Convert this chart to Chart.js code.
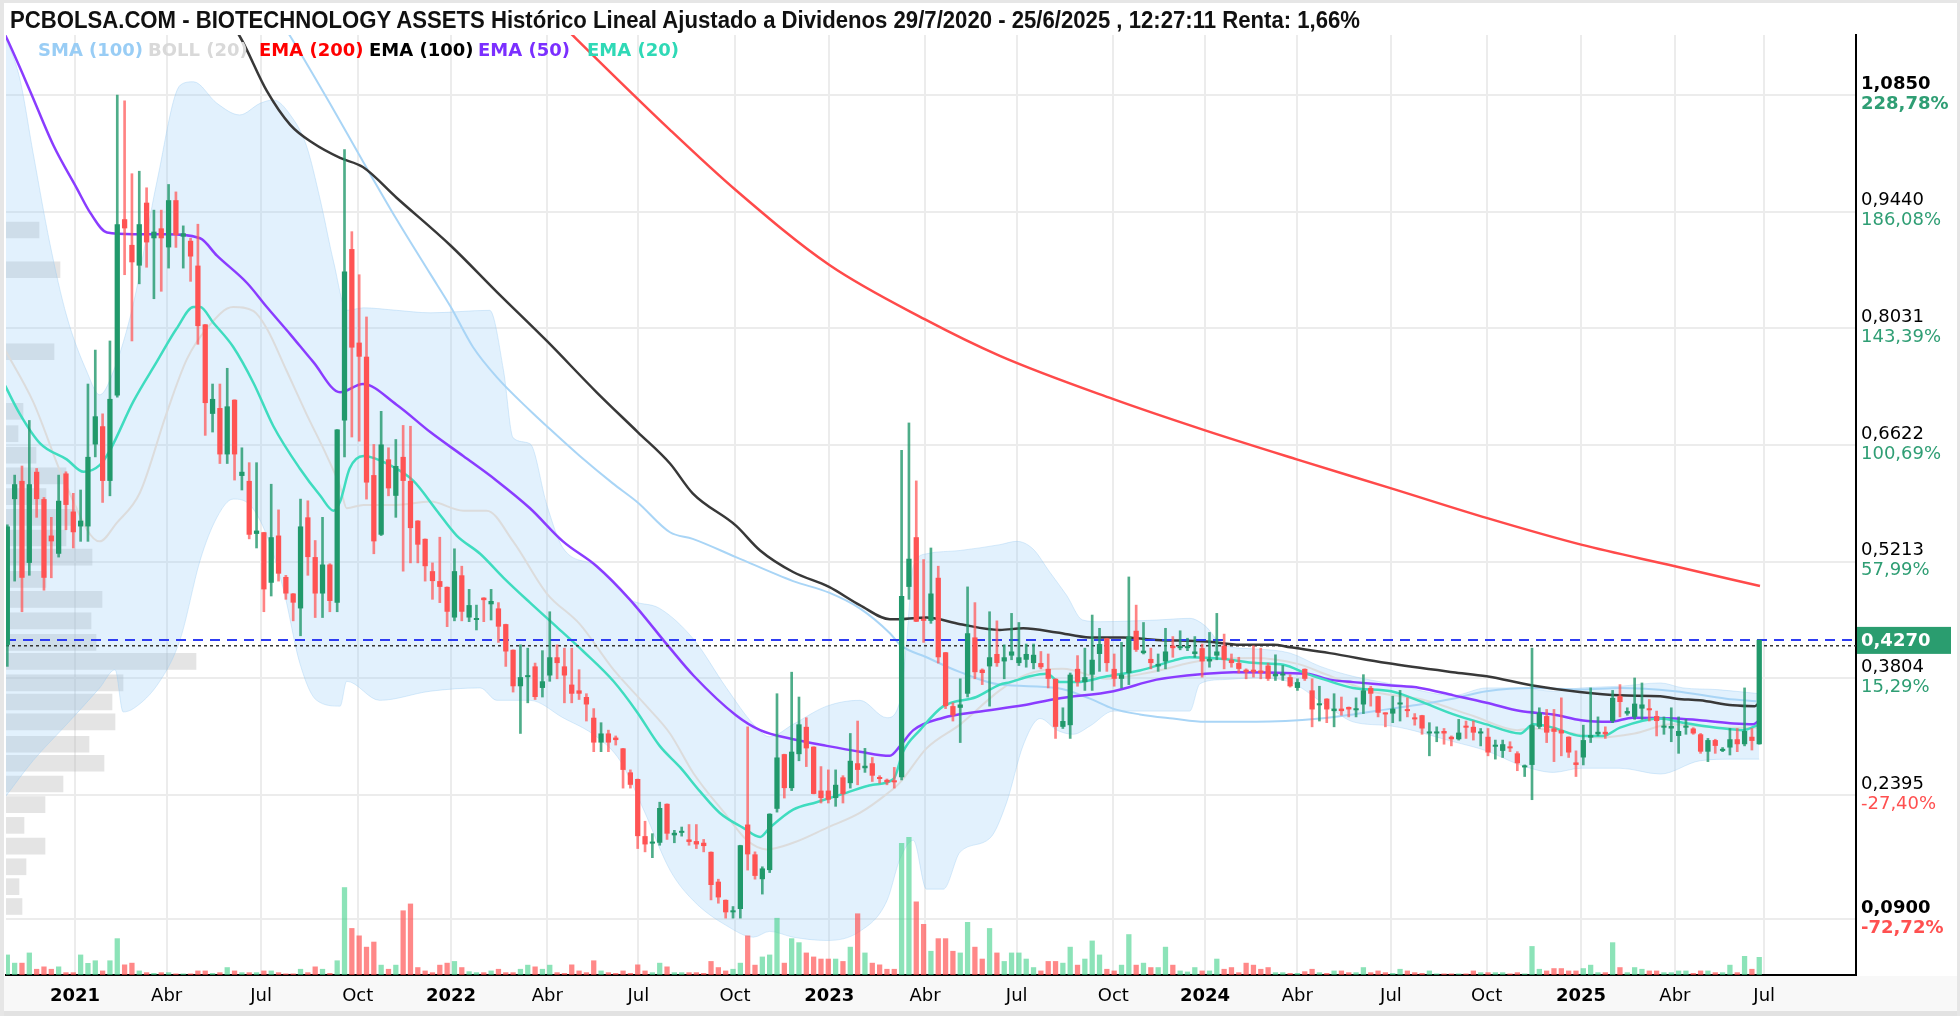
<!DOCTYPE html>
<html>
<head>
<meta charset="utf-8">
<script src="https://cdn.jsdelivr.net/npm/chart.js@4.4.1/dist/chart.umd.min.js"></script>
<style>
html,body{margin:0;padding:0;background:#fff;}
#wrap{position:relative;width:1960px;height:1016px;overflow:hidden;}
#c{position:absolute;left:0;top:0;}
#title{position:absolute;left:10px;top:7px;font-family:"Liberation Sans Narrow","Liberation Sans",Arial,sans-serif;font-weight:bold;font-size:23px;line-height:26px;color:#111;white-space:nowrap;transform-origin:0 0;}
.lg{position:absolute;top:40px;font-family:"DejaVu Sans",sans-serif;font-weight:bold;font-size:18px;line-height:20px;white-space:nowrap;}
</style>
</head>
<body>
<div id="wrap">
<canvas id="c" width="1960" height="1016"></canvas>
<div id="title">PCBOLSA.COM - BIOTECHNOLOGY ASSETS Histórico Lineal Ajustado a Dividenos 29/7/2020 - 25/6/2025 , 12:27:11 Renta: 1,66%</div>
<div id="legend"></div>
</div>
<script>
// ---------- DATA ----------
const candleOpen = [
0.421,0.597,0.619,0.520,0.630,0.597,0.553,0.531,0.628,0.582,
0.564,0.564,0.663,0.685,0.619,0.722,0.935,0.904,0.879,0.955,
0.912,0.924,0.901,0.958,0.914,0.909,0.879,0.808,0.700,0.707,
0.651,0.717,0.625,0.619,0.555,0.557,0.496,0.553,0.503,0.483,
0.465,0.575,0.527,0.483,0.518,0.472,0.692,0.899,0.786,0.769,
0.626,0.554,0.645,0.601,0.648,0.619,0.571,0.549,0.510,0.498,
0.491,0.454,0.505,0.454,0.451,0.478,0.470,0.465,0.446,0.415,
0.371,0.382,0.395,0.369,0.384,0.406,0.395,0.373,0.366,0.358,
0.333,0.303,0.314,0.309,0.296,0.267,0.259,0.190,0.181,0.182,
0.229,0.191,0.194,0.186,0.184,0.182,0.171,0.135,0.113,0.098,
0.102,0.204,0.168,0.138,0.149,0.223,0.289,0.248,0.289,0.322,
0.298,0.245,0.245,0.236,0.261,0.254,0.278,0.272,0.278,0.261,
0.258,0.257,0.261,0.491,0.551,0.452,0.450,0.502,0.412,0.347,
0.345,0.362,0.430,0.391,0.395,0.410,0.401,0.408,0.399,0.403,
0.399,0.399,0.392,0.380,0.322,0.324,0.392,0.376,0.385,0.410,
0.429,0.392,0.380,0.387,0.438,0.411,0.404,0.395,0.401,0.420,
0.417,0.417,0.410,0.417,0.401,0.408,0.420,0.403,0.399,0.391,
0.391,0.390,0.396,0.383,0.384,0.382,0.369,0.392,0.366,0.348,
0.356,0.341,0.344,0.346,0.342,0.349,0.369,0.359,0.339,0.338,
0.349,0.343,0.333,0.336,0.314,0.314,0.317,0.310,0.307,0.323,
0.322,0.314,0.310,0.298,0.293,0.298,0.290,0.273,0.276,0.322,
0.335,0.320,0.318,0.310,0.279,0.285,0.309,0.313,0.316,0.329,
0.359,0.338,0.334,0.344,0.344,0.335,0.321,0.320,0.311,0.321,
0.320,0.313,0.292,0.306,0.293,0.297,0.307,0.301,0.310,0.301];
const candleHigh = [
0.566,0.626,0.637,0.692,0.634,0.599,0.575,0.626,0.630,0.604,
0.608,0.736,0.777,0.700,0.788,1.085,1.078,0.990,0.993,0.973,
0.946,0.946,0.977,0.968,0.927,0.912,0.929,0.808,0.736,0.736,
0.755,0.717,0.659,0.641,0.641,0.557,0.615,0.584,0.505,0.483,
0.597,0.595,0.547,0.575,0.519,0.681,1.019,0.920,0.868,0.817,
0.663,0.703,0.659,0.669,0.686,0.685,0.571,0.549,0.520,0.551,
0.491,0.537,0.516,0.488,0.469,0.478,0.488,0.472,0.446,0.415,
0.421,0.417,0.399,0.414,0.461,0.421,0.417,0.417,0.391,0.362,
0.344,0.327,0.318,0.311,0.296,0.270,0.259,0.208,0.193,0.231,
0.229,0.197,0.201,0.204,0.204,0.186,0.171,0.138,0.113,0.105,
0.179,0.322,0.171,0.153,0.217,0.362,0.289,0.388,0.358,0.333,
0.298,0.274,0.270,0.270,0.263,0.314,0.329,0.296,0.285,0.263,
0.259,0.273,0.656,0.689,0.619,0.524,0.538,0.516,0.412,0.351,
0.380,0.491,0.472,0.392,0.461,0.450,0.421,0.459,0.448,0.422,
0.422,0.413,0.410,0.380,0.345,0.387,0.408,0.417,0.457,0.441,
0.429,0.410,0.424,0.503,0.469,0.448,0.417,0.410,0.441,0.431,
0.438,0.429,0.431,0.422,0.436,0.459,0.434,0.410,0.406,0.392,
0.420,0.417,0.399,0.409,0.396,0.385,0.380,0.392,0.380,0.371,
0.356,0.362,0.358,0.346,0.357,0.385,0.371,0.359,0.339,0.359,
0.366,0.357,0.338,0.336,0.327,0.322,0.320,0.311,0.331,0.329,
0.329,0.320,0.320,0.306,0.306,0.304,0.292,0.276,0.417,0.345,
0.343,0.343,0.357,0.310,0.293,0.324,0.369,0.334,0.322,0.366,
0.373,0.345,0.381,0.375,0.355,0.341,0.334,0.345,0.334,0.331,
0.321,0.314,0.308,0.307,0.297,0.320,0.320,0.369,0.320,0.427];
const candleLow = [
0.395,0.498,0.461,0.505,0.575,0.487,0.502,0.527,0.560,0.538,
0.546,0.546,0.648,0.593,0.601,0.720,0.868,0.788,0.857,0.877,
0.839,0.848,0.876,0.901,0.876,0.860,0.784,0.674,0.678,0.640,
0.640,0.620,0.608,0.549,0.538,0.461,0.480,0.498,0.476,0.450,
0.432,0.505,0.454,0.454,0.461,0.461,0.648,0.672,0.667,0.597,
0.531,0.553,0.601,0.575,0.510,0.520,0.520,0.498,0.476,0.472,
0.443,0.450,0.450,0.449,0.439,0.449,0.451,0.424,0.395,0.364,
0.314,0.351,0.355,0.358,0.377,0.380,0.351,0.351,0.355,0.329,
0.292,0.292,0.292,0.300,0.248,0.248,0.175,0.171,0.164,0.179,
0.186,0.182,0.190,0.179,0.175,0.171,0.113,0.109,0.091,0.091,
0.091,0.149,0.138,0.120,0.146,0.219,0.236,0.245,0.281,0.274,
0.241,0.230,0.230,0.226,0.230,0.248,0.252,0.267,0.256,0.254,
0.252,0.248,0.258,0.476,0.449,0.424,0.447,0.399,0.344,0.329,
0.303,0.358,0.380,0.373,0.347,0.395,0.380,0.403,0.396,0.394,
0.392,0.392,0.369,0.308,0.320,0.308,0.371,0.366,0.366,0.389,
0.389,0.371,0.369,0.373,0.413,0.410,0.392,0.389,0.392,0.406,
0.415,0.414,0.406,0.382,0.394,0.403,0.392,0.394,0.387,0.380,
0.382,0.380,0.378,0.378,0.378,0.370,0.366,0.378,0.322,0.329,
0.327,0.322,0.336,0.334,0.334,0.338,0.347,0.334,0.322,0.327,
0.329,0.334,0.324,0.313,0.287,0.304,0.301,0.299,0.306,0.308,
0.306,0.299,0.287,0.283,0.285,0.292,0.269,0.262,0.234,0.320,
0.303,0.280,0.287,0.285,0.262,0.276,0.303,0.311,0.308,0.327,
0.334,0.336,0.331,0.331,0.329,0.311,0.313,0.304,0.290,0.313,
0.313,0.290,0.280,0.290,0.292,0.288,0.292,0.299,0.294,0.301];
const candleClose = [
0.564,0.615,0.502,0.615,0.597,0.502,0.546,0.595,0.590,0.557,
0.571,0.648,0.697,0.619,0.718,0.929,0.924,0.883,0.929,0.907,
0.920,0.912,0.958,0.916,0.918,0.890,0.806,0.713,0.718,0.651,
0.709,0.651,0.630,0.554,0.559,0.488,0.551,0.507,0.483,0.472,
0.564,0.527,0.483,0.518,0.474,0.681,0.872,0.780,0.769,0.617,
0.546,0.663,0.610,0.637,0.619,0.562,0.542,0.516,0.498,0.491,
0.461,0.510,0.461,0.469,0.453,0.475,0.474,0.443,0.413,0.371,
0.382,0.384,0.358,0.377,0.406,0.399,0.384,0.362,0.362,0.349,
0.303,0.314,0.303,0.306,0.270,0.252,0.190,0.180,0.183,0.224,
0.193,0.194,0.195,0.183,0.180,0.178,0.131,0.116,0.098,0.100,
0.179,0.168,0.142,0.151,0.217,0.285,0.248,0.292,0.325,0.296,
0.241,0.236,0.234,0.252,0.241,0.281,0.270,0.275,0.263,0.259,
0.255,0.255,0.480,0.525,0.449,0.450,0.483,0.406,0.347,0.336,
0.349,0.435,0.388,0.387,0.406,0.399,0.406,0.413,0.406,0.410,
0.409,0.394,0.380,0.322,0.329,0.385,0.376,0.382,0.403,0.422,
0.399,0.380,0.385,0.431,0.415,0.414,0.399,0.398,0.413,0.417,
0.419,0.418,0.413,0.401,0.404,0.413,0.403,0.399,0.392,0.388,
0.388,0.387,0.380,0.386,0.386,0.371,0.376,0.380,0.343,0.350,
0.343,0.344,0.341,0.343,0.344,0.366,0.362,0.339,0.337,0.344,
0.351,0.341,0.331,0.320,0.316,0.316,0.314,0.307,0.315,0.321,
0.315,0.316,0.291,0.300,0.301,0.296,0.278,0.275,0.324,0.339,
0.315,0.316,0.314,0.291,0.276,0.306,0.312,0.316,0.313,0.357,
0.352,0.341,0.350,0.349,0.342,0.329,0.323,0.323,0.317,0.323,
0.314,0.292,0.306,0.299,0.295,0.307,0.301,0.317,0.305,0.427];
const volume = [
204,122,122,224,61,85,61,85,27,27,
204,120,146,44,146,367,105,122,44,27,
20,27,27,15,15,15,44,44,20,27,
78,44,27,27,27,44,44,27,15,15,
61,27,85,61,20,146,878,469,395,282,
333,102,61,102,646,714,78,44,27,102,
122,139,78,37,27,27,44,61,27,27,
61,102,85,61,102,27,20,105,44,27,
146,44,27,20,44,20,105,44,27,122,
85,27,27,27,27,20,139,78,44,61,
122,395,102,184,204,571,122,367,327,224,
184,163,163,163,139,282,616,224,122,105,
61,61,1320,1380,735,510,241,367,367,241,
224,530,282,163,469,224,139,224,224,163,
78,44,139,139,122,282,102,163,344,204,
61,44,102,408,102,122,78,78,282,102,
44,34,78,44,44,163,61,78,27,122,
102,61,78,27,27,20,20,37,61,27,
20,44,44,27,27,78,27,44,27,20,
61,44,27,20,44,15,15,15,15,15,
44,27,27,27,27,15,27,15,289,61,
44,68,68,44,44,68,102,27,27,327,
78,27,78,61,44,44,27,27,44,44,
20,44,44,27,27,102,27,190,61,180];

// moving averages / bands: [candle index, price]
const ema200 = [[70,1.22],[76.8,1.160],[90.4,1.043],[99.4,0.970],[112.1,0.880],[125.2,0.814],[135.4,0.770],[150.8,0.718],[163.4,0.680],[175.9,0.645],[188.8,0.610],[201.9,0.574],[214.7,0.542],[227.5,0.516],[239.1,0.492]];
const ema100 = [[28,1.20],[31.7,1.156],[35.4,1.090],[38.6,1.049],[41.7,1.027],[45.4,1.009],[48.5,0.998],[53.1,0.961],[60.5,0.903],[66.8,0.847],[73.6,0.788],[80.4,0.726],[86.0,0.678],[90.4,0.640],[93.5,0.604],[99.4,0.565],[102.7,0.535],[107.2,0.509],[112.1,0.491],[116.3,0.469],[120.4,0.452],[121.8,0.452],[125.4,0.454],[130.0,0.446],[135.4,0.439],[138.6,0.441],[143.2,0.436],[147.7,0.430],[152.2,0.430],[156.8,0.427],[163.6,0.425],[168.2,0.421],[172.7,0.421],[175.0,0.418],[180.4,0.411],[188.2,0.399],[197.2,0.388],[201.8,0.383],[208.1,0.372],[214.5,0.364],[220.0,0.360],[225.5,0.359],[227.7,0.356],[230.9,0.354],[235.4,0.348],[238.4,0.347],[239.0,0.351]];
const sma100 = [[34,1.22],[38.6,1.156],[44.0,1.075],[48.5,1.005],[53.1,0.935],[57.7,0.869],[60.5,0.829],[63.5,0.781],[66.8,0.744],[71.3,0.704],[73.6,0.685],[78.1,0.649],[82.6,0.616],[86.0,0.593],[90.4,0.557],[93.5,0.549],[99.4,0.527],[107.2,0.498],[112.1,0.484],[116.3,0.465],[120.4,0.435],[121.8,0.421],[125.4,0.406],[130.0,0.388],[135.4,0.373],[143.2,0.369],[147.7,0.356],[150.8,0.344],[154.5,0.337],[159.0,0.332],[163.4,0.328],[170.4,0.328],[179.1,0.332],[183.6,0.337],[188.8,0.344],[192.7,0.349],[197.2,0.356],[201.8,0.365],[208.1,0.369],[214.7,0.367],[220.0,0.369],[227.5,0.365],[234.5,0.356],[238.6,0.353]];
const ema50 = [[-1,1.17],[0,1.152],[3.1,1.090],[6.3,1.024],[9.5,0.972],[11.3,0.943],[13.6,0.919],[17.2,0.917],[21.7,0.917],[26.3,0.912],[28.6,0.891],[32.7,0.858],[35.4,0.829],[38.6,0.796],[41.7,0.763],[45.4,0.726],[48.5,0.736],[53.1,0.711],[57.7,0.678],[62.2,0.649],[66.8,0.619],[71.3,0.586],[75.8,0.546],[80.4,0.516],[84.9,0.476],[90.4,0.417],[93.6,0.384],[99.4,0.336],[102.7,0.318],[107.2,0.307],[111.8,0.299],[116.3,0.292],[120.4,0.287],[121.8,0.299],[123.6,0.318],[127.7,0.333],[132.2,0.340],[138.6,0.348],[143.2,0.356],[150.9,0.365],[156.8,0.379],[163.4,0.386],[167.3,0.388],[177.3,0.386],[180.4,0.379],[183.6,0.376],[188.8,0.372],[192.7,0.369],[197.3,0.360],[201.8,0.351],[206.4,0.341],[210.9,0.337],[214.7,0.330],[218.6,0.328],[221.8,0.333],[227.5,0.332],[230.9,0.330],[235.5,0.326],[238.2,0.325],[239.0,0.330]];
const ema20 = [[-0.3,0.734],[1.7,0.700],[4.5,0.664],[8.1,0.645],[10.4,0.630],[12.6,0.638],[14.0,0.656],[17.2,0.715],[20.4,0.763],[23.1,0.803],[25.4,0.829],[26.3,0.829],[28.1,0.810],[30.8,0.781],[33.6,0.737],[36.3,0.685],[39.9,0.634],[42.7,0.601],[44.5,0.583],[45.4,0.594],[46.7,0.634],[48.6,0.649],[52.2,0.638],[55.4,0.619],[58.6,0.583],[61.3,0.553],[64.5,0.531],[67.7,0.502],[71.3,0.472],[74.9,0.443],[78.6,0.413],[82.7,0.377],[85.9,0.340],[89.0,0.299],[91.8,0.273],[94.5,0.244],[97.2,0.218],[100.4,0.200],[102.7,0.189],[104.0,0.200],[107.2,0.222],[110.4,0.231],[114.0,0.241],[118.1,0.252],[120.9,0.259],[122.2,0.292],[124.5,0.318],[127.7,0.347],[132.2,0.358],[135.4,0.373],[136.8,0.376],[139.5,0.383],[141.8,0.386],[143.6,0.376],[145.9,0.376],[150.0,0.383],[154.5,0.390],[159.1,0.402],[161.3,0.406],[165.9,0.404],[170.4,0.399],[174.1,0.397],[177.3,0.386],[179.7,0.379],[183.6,0.369],[188.8,0.365],[192.7,0.353],[197.3,0.337],[201.8,0.325],[206.4,0.314],[208.2,0.325],[210.9,0.321],[214.7,0.311],[217.7,0.311],[220.0,0.321],[225.5,0.332],[228.6,0.327],[233.2,0.321],[236.8,0.318],[239.0,0.325]];
const bollMid = [[-0.3,0.777],[3.5,0.715],[8.1,0.612],[12.6,0.546],[14.9,0.568],[18.1,0.605],[21.7,0.700],[24.5,0.766],[27.2,0.803],[30.8,0.829],[33.6,0.824],[35.4,0.803],[38.1,0.752],[40.8,0.700],[43.6,0.649],[45.4,0.612],[46.3,0.586],[48.6,0.590],[53.1,0.590],[57.7,0.594],[62.2,0.583],[65.4,0.583],[69.0,0.546],[73.6,0.483],[78.1,0.446],[82.7,0.391],[87.2,0.347],[90.4,0.314],[93.6,0.266],[98.1,0.215],[100.9,0.185],[103.6,0.174],[107.2,0.182],[111.8,0.200],[116.3,0.218],[120.0,0.241],[121.8,0.255],[125.4,0.296],[130.0,0.325],[135.4,0.366],[139,0.385],[144,0.392],[150,0.380],[156,0.388],[163,0.402],[170,0.405],[176,0.398],[180,0.385],[186,0.365],[193,0.355],[200,0.335],[206,0.318],[208,0.320],[213,0.315],[217,0.309],[222,0.314],[227,0.325],[234,0.321],[239,0.321]];
const bandUpper = [[-0.3,1.156],[1.7,1.105],[3.5,1.016],[5.8,0.906],[8.1,0.818],[10.8,0.752],[12.6,0.723],[14.5,0.752],[17.2,0.833],[20.4,0.980],[23.6,1.097],[25.4,1.101],[28.6,1.075],[31.7,1.061],[34.5,1.075],[36.3,1.079],[38.6,1.061],[40.8,1.024],[42.7,0.958],[44.5,0.884],[46.3,0.825],[48.6,0.828],[53.1,0.825],[57.7,0.822],[65.8,0.825],[67.7,0.752],[69.0,0.671],[71.3,0.664],[73.6,0.590],[75.8,0.538],[80.4,0.516],[84.9,0.476],[89.0,0.465],[93.6,0.428],[98.1,0.369],[101.8,0.325],[104.0,0.310],[107.2,0.325],[111.8,0.347],[116.3,0.354],[120.0,0.333],[121.8,0.354],[122.7,0.428],[123.6,0.516],[125.4,0.531],[130.0,0.535],[135.4,0.542],[137.7,0.546],[139.9,0.537],[142.2,0.509],[144.5,0.481],[146.7,0.451],[149.1,0.449],[156.8,0.451],[161.3,0.453],[163.4,0.444],[165.8,0.421],[170.4,0.416],[175.0,0.411],[179.1,0.395],[183.6,0.383],[188.8,0.374],[197.3,0.360],[201.8,0.369],[206.4,0.369],[210.9,0.365],[214.7,0.369],[220.0,0.371],[225.5,0.375],[228.6,0.369],[233.2,0.367],[239.0,0.362]];
const bandLower = [[-0.3,0.237],[3.5,0.281],[8.1,0.325],[12.6,0.369],[14.7,0.391],[15.8,0.340],[17.2,0.344],[20.8,0.377],[23.6,0.428],[26.3,0.523],[28.6,0.575],[30.8,0.597],[33.1,0.590],[35.4,0.553],[37.7,0.487],[39.9,0.399],[42.2,0.354],[45.4,0.347],[46.3,0.377],[50.8,0.354],[57.7,0.365],[64.5,0.369],[66.8,0.354],[71.3,0.354],[75.8,0.333],[80.4,0.310],[83.6,0.281],[86.8,0.222],[90.4,0.149],[93.6,0.112],[98.1,0.082],[101.8,0.068],[104.0,0.075],[107.2,0.068],[111.8,0.064],[116.3,0.075],[120.0,0.112],[121.8,0.163],[123.6,0.185],[125.4,0.126],[127.7,0.126],[130.0,0.171],[134.1,0.188],[136.3,0.230],[138.6,0.300],[140.9,0.332],[143.2,0.318],[145.4,0.313],[147.7,0.323],[150.9,0.341],[161.3,0.341],[162.7,0.374],[165.8,0.379],[170.4,0.381],[175.0,0.376],[180.4,0.345],[183.6,0.328],[188.8,0.323],[197.3,0.304],[201.8,0.293],[206.4,0.276],[210.9,0.267],[214.7,0.272],[220.0,0.272],[225.5,0.265],[230.9,0.281],[235.5,0.283],[239.0,0.283]];

// volume at price (left histogram)
const profPrice = [0.105,0.129,0.153,0.178,0.203,0.228,0.253,0.278,0.301,0.328,0.352,0.375,0.401,0.424,0.450,0.476,0.500,0.527,0.550,0.575,0.600,0.625,0.650,0.676,0.703,0.775,0.874,0.922];
const profVol = [16,13,20,39,18,39,57,98,83,109,106,117,190,90,85,96,40,86,60,70,40,60,30,12,17,48,54,33];

// axis ticks
const tickPos = [9.24,21.74,34.61,47.80,60.53,73.66,86.08,99.27,112.13,125.19,137.70,150.88,163.38,175.98,188.76,201.81,214.68,227.50,239.68];
const tickLabels = ['2021','Abr','Jul','Oct','2022','Abr','Jul','Oct','2023','Abr','Jul','Oct','2024','Abr','Jul','Oct','2025','Abr','Jul'];
const priceTicks = [1.0850,0.9440,0.8031,0.6622,0.5213,0.3804,0.2395,0.0900];
const priceLabels = ['1,0850','0,9440','0,8031','0,6622','0,5213','0,3804','0,2395','0,0900'];
const pctLabels = ['228,78%','186,08%','143,39%','100,69%','57,99%','15,29%','-27,40%','-72,72%'];
const lastPrice = 0.4270, lastPriceLabel = '0,4270', refPrice = 0.4200;

const legendItems = [['SMA (100)','#99cdf5',38],['BOLL (20)','#d9d9d9',148],['EMA (200)','#ff0000',259],['EMA (100)','#000000',369],['EMA (50)','#7b2fff',478],['EMA (20)','#2fd9b6',587]];

// ---------- RENDER ----------
const X_MIN = -0.18, X_MAX = 252.2, Y_MIN = 0.0223, Y_MAX = 1.1575;
const N = candleOpen.length;
const idx = Array.from({length:N}, (_, i) => i);
const up = i => candleClose[i] >= candleOpen[i];
const pts = a => a.map(p => ({x:p[0], y:p[1]}));
function lineDs(data, color, width, order, extra){
  return Object.assign({type:'line', data:pts(data), borderColor:color, borderWidth:width, pointRadius:0, pointHoverRadius:0,
    fill:false, cubicInterpolationMode:'monotone', order:order, xAxisID:'x', yAxisID:'y'}, extra || {});
}

const lg = document.getElementById('legend');
legendItems.forEach(([t,c,x]) => { const s = document.createElement('div'); s.className='lg'; s.textContent=t; s.style.color=c; s.style.left=x+'px'; lg.appendChild(s); });
const title = document.getElementById('title');
const tw = title.getBoundingClientRect().width;
title.style.transform = 'scaleX(' + (1350 / tw) + ')';

const bgPlugin = {
  id:'bg',
  beforeDraw(chart){
    const c = chart.ctx; c.save();
    c.fillStyle = '#ffffff'; c.fillRect(0,0,1960,1016);
    c.fillStyle = '#f8f8f8'; c.fillRect(0,976,1960,36);
    c.fillStyle = '#e2e2e2'; c.fillRect(0,1011,1960,5);
    c.fillStyle = '#e6e6e6'; c.fillRect(0,0,1960,3); c.fillRect(0,0,4,1016); c.fillRect(1957,0,3,1016);
    c.restore();
  },
  afterDraw(chart){
    const c = chart.ctx, s = chart.scales.y; c.save();
    c.textAlign = 'left'; c.textBaseline = 'middle';
    priceTicks.forEach((v,i) => {
      const y = s.getPixelForValue(v);
      const b = (i === 0 || i === priceTicks.length - 1);
      c.font = (b ? 'bold ' : '') + '18px "DejaVu Sans"';
      c.fillStyle = '#000'; c.fillText(priceLabels[i], 1861, y - 11);
      c.fillStyle = pctLabels[i].charAt(0) === '-' ? '#ff5050' : '#2f9e74';
      c.fillText(pctLabels[i], 1861, y + 9);
    });
    const yc = s.getPixelForValue(lastPrice);
    c.fillStyle = '#2a9d6f'; c.fillRect(1857, yc - 13, 94, 27);
    c.fillStyle = '#fff'; c.font = 'bold 18px "DejaVu Sans"'; c.fillText(lastPriceLabel, 1861, yc + 1);
    c.restore();
  }
};

new Chart(document.getElementById('c'), {
  data:{
    datasets:[
      {type:'bar', indexAxis:'y', data:profPrice.map((p,i)=>({x:profVol[i], y:p})), xAxisID:'xp', yAxisID:'yp',
        backgroundColor:'rgba(180,180,180,0.36)', barThickness:16, grouped:false, order:30},
      lineDs(bandUpper, 'rgba(150,200,240,0.35)', 1, 29),
      lineDs(bandLower, 'rgba(150,200,240,0.35)', 1, 28, {fill:'-1', backgroundColor:'rgba(144,202,249,0.26)'}),
      {type:'bar', data:idx.map(i=>({x:i, y:volume[i]})), xAxisID:'x', yAxisID:'yv', grouped:false,
        barPercentage:0.9, categoryPercentage:0.8,
        backgroundColor: ctx => up(ctx.dataIndex) ? 'rgba(70,210,140,0.62)' : 'rgba(255,80,80,0.68)', order:27},
      lineDs(bollMid, '#dcdcdc', 2, 26),
      lineDs(sma100, '#a9d5f6', 2, 25),
      lineDs(ema200, '#ff4a4a', 2.5, 24),
      lineDs(ema100, '#383838', 2.5, 23),
      lineDs(ema50, '#8a3cff', 2.5, 22),
      lineDs(ema20, '#3fdcbf', 2.5, 21),
      lineDs([[X_MIN,refPrice],[X_MAX,refPrice]], '#333333', 1.5, 20, {borderDash:[3,3], cubicInterpolationMode:'default'}),
      lineDs([[X_MIN,lastPrice],[X_MAX,lastPrice]], '#2e3cf2', 2, 19, {borderDash:[10,7], cubicInterpolationMode:'default'}),
      {type:'bar', data:idx.map(i=>({x:i, y:[candleLow[i], candleHigh[i]]})), xAxisID:'x', yAxisID:'y', grouped:false,
        barThickness:2, backgroundColor: ctx => up(ctx.dataIndex) ? 'rgba(34,153,107,0.8)' : 'rgba(255,90,90,0.75)', order:2},
      {type:'bar', data:idx.map(i=>({x:i, y:[candleOpen[i], candleClose[i]]})), xAxisID:'x', yAxisID:'y', grouped:false,
        barPercentage:0.9, categoryPercentage:0.8, minBarLength:2,
        backgroundColor: ctx => up(ctx.dataIndex) ? '#21996b' : '#ff5353', order:1}
    ]
  },
  options:{
    responsive:false, animation:false, events:[],
    layout:{padding:{left:6, top:35, right:0, bottom:0}},
    plugins:{legend:{display:false}, tooltip:{enabled:false}},
    scales:{
      x:{type:'linear', min:X_MIN, max:X_MAX, offset:false,
        afterBuildTicks: s => { s.ticks = tickPos.map(v => ({value:v})); },
        afterFit: s => { s.height = 41; },
        ticks:{autoSkip:false, maxRotation:0, minRotation:0, padding:11, color:'#000',
          callback:(v,i) => tickLabels[i],
          font: c => ({family:'DejaVu Sans', size:18, weight: /^\d{4}$/.test(tickLabels[c.index]) ? 'bold' : 'normal'})},
        grid:{color:'#ececec', lineWidth:2, drawTicks:false, offset:false},
        border:{display:true, color:'#000', width:2}},
      y:{type:'linear', position:'right', min:Y_MIN, max:Y_MAX, offset:false,
        afterBuildTicks: s => { s.ticks = priceTicks.map(v => ({value:v})); },
        afterFit: s => { s.width = 104; },
        ticks:{display:false},
        grid:{color:'#ececec', lineWidth:2, drawTicks:false, offset:false},
        border:{display:true, color:'#000', width:2}},
      yv:{type:'linear', display:false, min:0, max:9400, offset:false},
      yp:{type:'linear', display:false, min:Y_MIN, max:Y_MAX, offset:false},
      xp:{type:'linear', display:false, min:0, max:1850, offset:false}
    }
  },
  plugins:[bgPlugin]
});
</script>
</body>
</html>
